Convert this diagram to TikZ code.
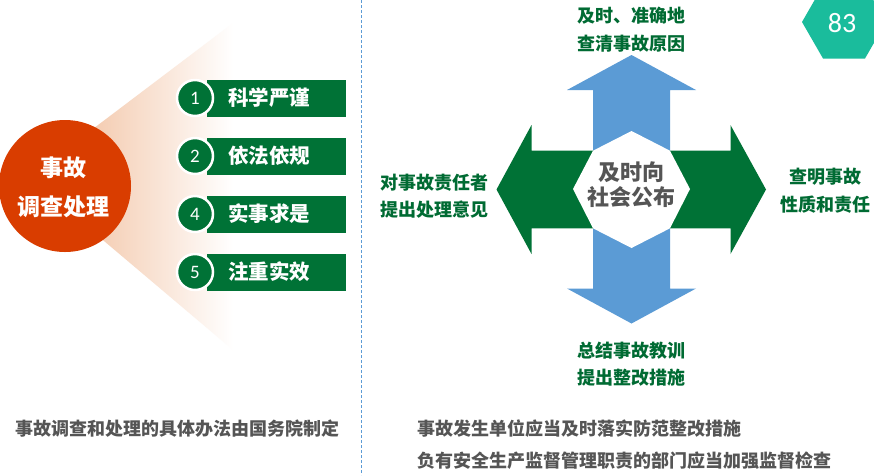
\documentclass[tikz,border=0pt]{standalone}
\usepackage{fontspec}
\setmainfont{Noto Sans CJK SC}
\newfontfamily\numfont{Carlito}
\definecolor{dgreen}{HTML}{007236}
\definecolor{lgreen}{HTML}{006B33}
\definecolor{ablue}{HTML}{5B9BD5}
\definecolor{ored}{HTML}{D93D00}
\definecolor{peach}{HTML}{F2C2A2}
\definecolor{teal}{HTML}{1ABC9C}
\definecolor{tgray}{HTML}{555555}
\tikzset{
  bartext/.style={anchor=west,text=white,font=\bfseries\fontsize{20.5}{24}\selectfont,inner sep=0pt},
  numdisk/.style={circle,fill=dgreen,draw=white,line width=2.5pt,minimum size=36pt,inner sep=0pt,text=white,font=\numfont\fontsize{19}{20}\selectfont},
  glabel/.style={align=center,text=lgreen,font=\bfseries\fontsize{18}{27.5}\selectfont,inner sep=0pt},
  btext/.style={anchor=west,text=tgray,font=\bfseries\fontsize{18}{32}\selectfont,inner sep=0pt,align=left}
}
\begin{document}
\begin{tikzpicture}[x=1pt,y=-1pt]
\useasboundingbox (0,0) rectangle (874,475);
\fill[white] (0,0) rectangle (874,475);
% divider
\draw[ablue,line width=0.8pt,dash pattern=on 3pt off 2pt] (361,0) -- (361,475);
% fan
\shade[left color=peach,right color=white] (65,150) -- (233,23) -- (233,350) -- (65,208) -- cycle;
% main circle
\node[circle,fill=ored,minimum size=132pt,inner sep=0pt] (main) at (65,186) {};
\node[align=center,text=white,font=\bfseries\fontsize{23}{39}\selectfont,inner sep=0pt] (maintext) at (63,187.5) {事故\\调查处理};
% bars
\foreach \yy/\n/\t/\nm in {98/1/科学严谨/a,156/2/依法依规/b,214/4/实事求是/c,272/5/注重实效/d}{
  \fill[dgreen] (207,\yy-18.5) rectangle (346,\yy+18.5);
  \node[numdisk] (num\nm) at (195,\yy) {\n};
  \node[bartext] (bar\nm) at (228,\yy) {\t};
}
% blue vertical double arrow
\fill[ablue] (631.5,55) -- (696,90) -- (670,90) -- (670,288.5) -- (696,288.5) -- (631.5,323.5)
  -- (567,288.5) -- (593,288.5) -- (593,90) -- (567,90) -- cycle;
% green horizontal double arrow
\fill[dgreen] (496.5,189.5) -- (531.5,125) -- (531.5,150.7) -- (730.5,150.7) -- (730.5,125) -- (766,189.5)
  -- (730.5,254) -- (730.5,228.3) -- (531.5,228.3) -- (531.5,254) -- cycle;
% white octagon
\fill[white] (631.5,131) -- (670,150.7) -- (690,189) -- (670,228.3) -- (631.5,248) -- (593,228.3) -- (573,189) -- (593,150.7) -- cycle;
\node[align=center,text=tgray,font=\bfseries\fontsize{22}{25.5}\selectfont,inner sep=0pt] (center) at (631.5,184.5) {及时向\\社会公布};
% labels
\node[glabel] (top) at (631.5,29.5) {及时、准确地\\查清事故原因};
\node[glabel] (right) at (825,190.5) {查明事故\\性质和责任};
\node[glabel] (bottom) at (631.5,364) {总结事故教训\\提出整改措施};
\node[glabel] (left) at (434,196) {对事故责任者\\提出处理意见};
% page number hexagon
\fill[teal] (802,22) -- (823,-14.5) -- (865,-14.5) -- (886,22) -- (865,58.5) -- (823,58.5) -- cycle;
\node[text=white,font=\numfont\fontsize{28}{30}\selectfont,inner sep=0pt] (page) at (842,23) {83};
% bottom texts
\node[btext] (bl) at (15,429) {事故调查和处理的具体办法由国务院制定};
\node[btext] (br) at (417,445) {事故发生单位应当及时落实防范整改措施\\负有安全生产监督管理职责的部门应当加强监督检查};
\end{tikzpicture}
\end{document}
